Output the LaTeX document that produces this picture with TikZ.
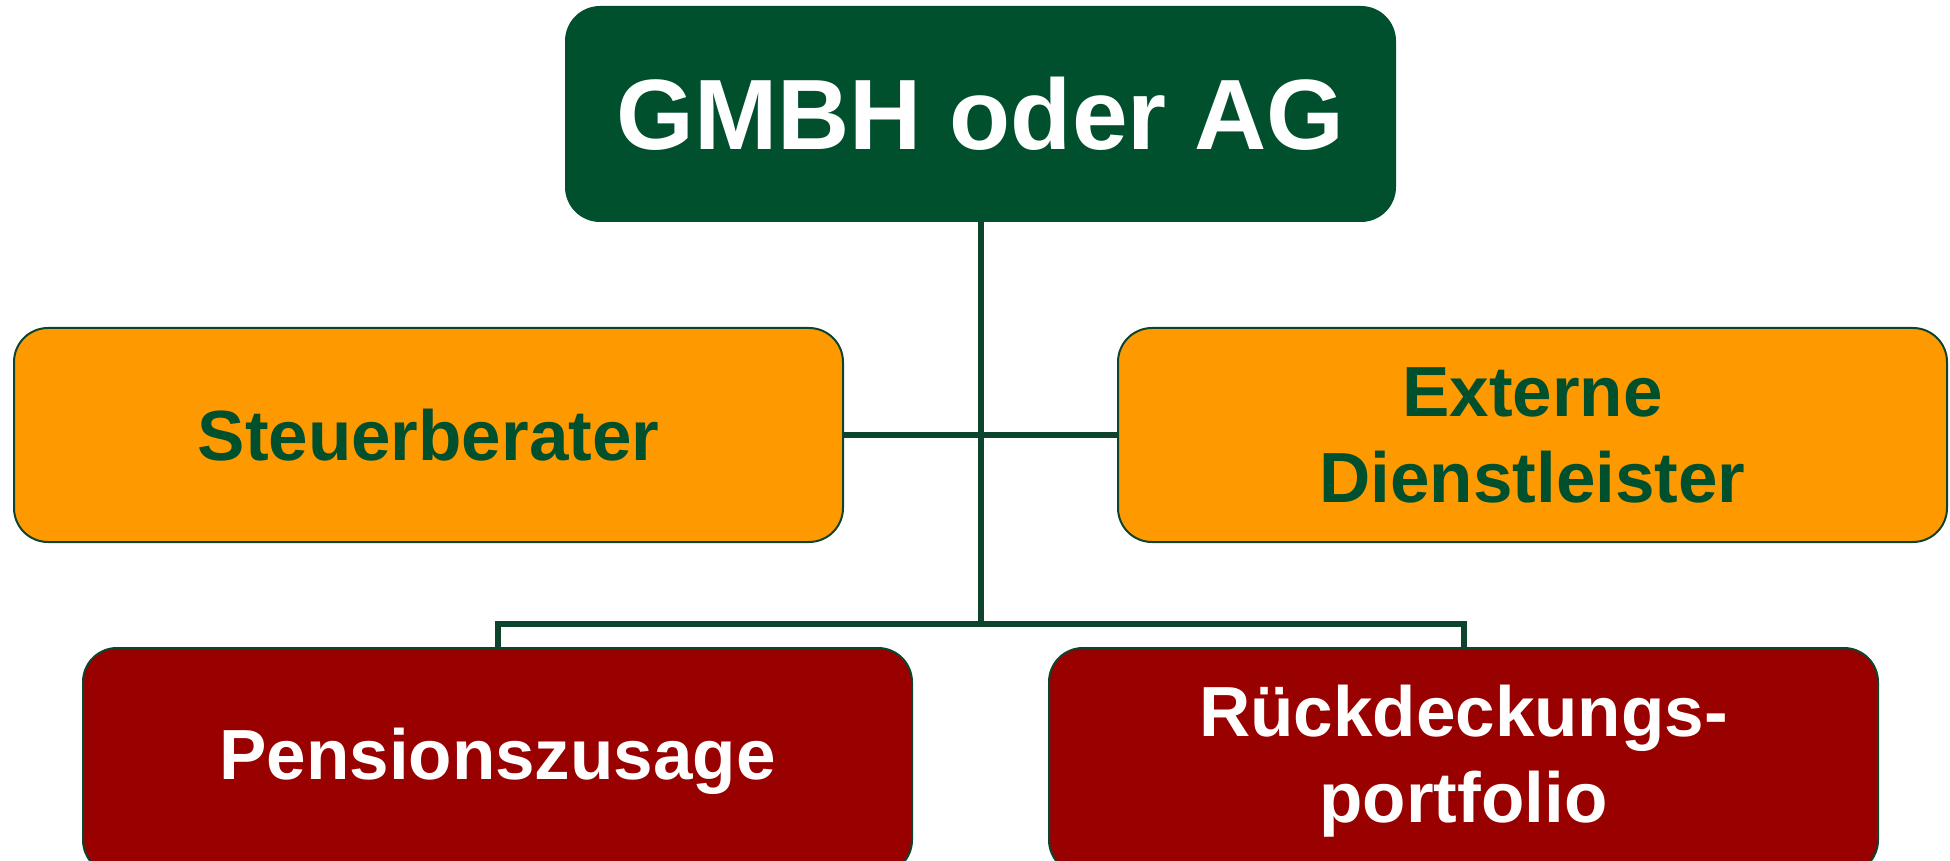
\documentclass[tikz,border=0pt]{standalone}
\usepackage{fontspec}
\setmainfont{Liberation Sans}
\definecolor{dkgreen}{RGB}{0,80,46}
\definecolor{lngreen}{RGB}{12,68,46}
\definecolor{orangebox}{RGB}{255,153,0}
\definecolor{redbox}{RGB}{153,0,0}
\begin{document}
\begin{tikzpicture}[x=0.5pt,y=-0.5pt,
  box/.style={rectangle, rounded corners=17pt, minimum width=414.5pt, minimum height=107pt, align=center, font=\bfseries\fontsize{35.5}{43}\selectfont, inner sep=0pt},
  topbox/.style={box, fill=dkgreen, draw=dkgreen, line width=1pt, text=white, font=\bfseries\fontsize{50}{60}\selectfont},
  midbox/.style={box, fill=orangebox, draw=lngreen, line width=1pt, text=dkgreen},
  lowbox/.style={box, minimum height=113pt, fill=redbox, draw=lngreen, line width=1pt, text=white},
  conn/.style={draw=lngreen, line width=3pt}]
\useasboundingbox (0,0) rectangle (1950,861);
\node[topbox] (top) at (980.5,114) {GMBH oder AG};
\node[midbox] (steuer) at (428.5,435) {Steuerberater};
\node[midbox] (extern) at (1532.5,435) {Externe\\Dienstleister};
\node[lowbox] (pens) at (497.5,761) {Pensionszusage};
\node[lowbox] (rueck) at (1463.5,761) {Rückdeckungs-\\portfolio};
\coordinate (bus) at (980.5,624);
\draw[conn] (top.south) -- (bus);
\draw[conn] (steuer.east) -- (extern.west);
\draw[conn] (pens.north) |- (bus);
\draw[conn] (rueck.north) |- (bus);
\end{tikzpicture}
\end{document}
